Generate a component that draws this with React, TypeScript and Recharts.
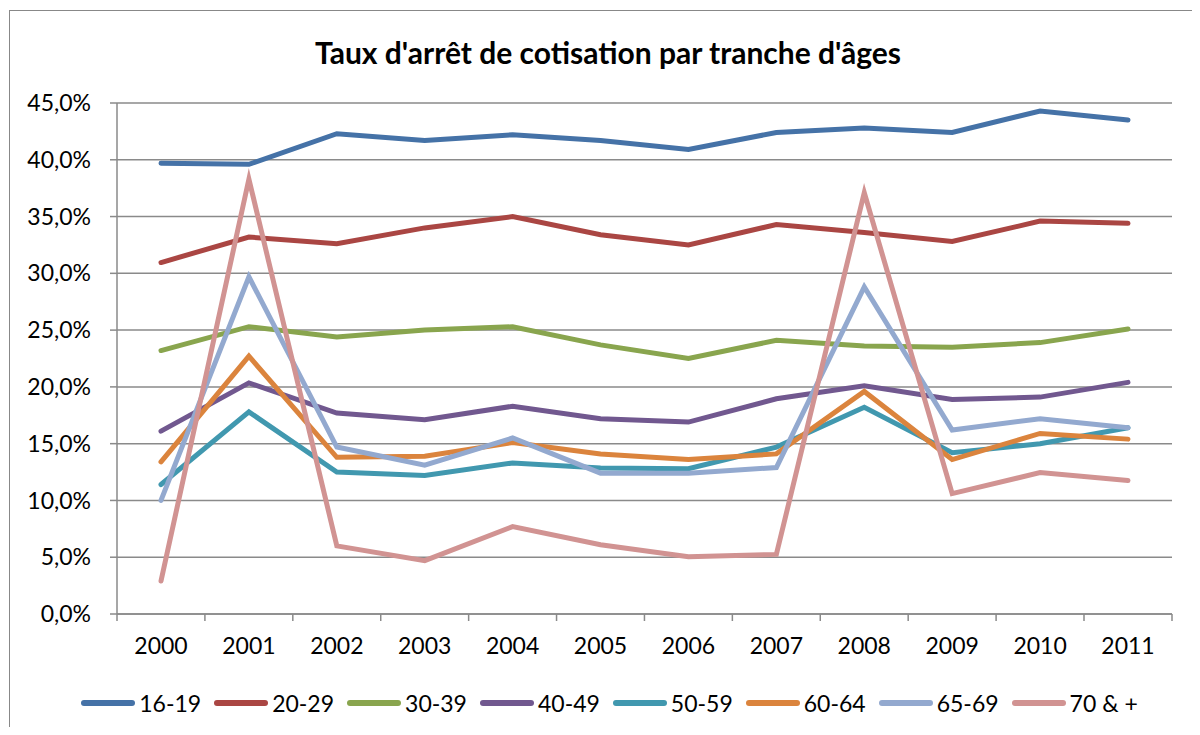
import React from 'react';
import { LineChart, Line, XAxis, YAxis, CartesianGrid } from 'recharts';

// Taux d'arrêt de cotisation (%), par année et tranche d'âges
const years = ['2000', '2001', '2002', '2003', '2004', '2005', '2006', '2007', '2008', '2009', '2010', '2011'];

const tranche16_19 = [39.7, 39.6, 42.3, 41.7, 42.2, 41.7, 40.9, 42.4, 42.8, 42.4, 44.3, 43.5];
const tranche20_29 = [30.95, 33.2, 32.6, 34.0, 35.0, 33.4, 32.5, 34.3, 33.6, 32.8, 34.6, 34.4];
const tranche30_39 = [23.2, 25.3, 24.4, 25.0, 25.3, 23.7, 22.5, 24.1, 23.6, 23.5, 23.9, 25.1];
const tranche40_49 = [16.1, 20.35, 17.7, 17.1, 18.3, 17.2, 16.9, 18.95, 20.1, 18.9, 19.1, 20.4];
const tranche50_59 = [11.4, 17.8, 12.5, 12.2, 13.3, 12.85, 12.8, 14.7, 18.2, 14.2, 15.0, 16.4];
const tranche60_64 = [13.4, 22.7, 13.8, 13.9, 15.1, 14.1, 13.6, 14.1, 19.6, 13.6, 15.9, 15.4];
const tranche65_69 = [10.0, 29.7, 14.7, 13.1, 15.5, 12.4, 12.4, 12.9, 28.8, 16.2, 17.2, 16.4];
const tranche70plus = [2.9, 38.3, 6.0, 4.7, 7.7, 6.1, 5.05, 5.25, 37.1, 10.6, 12.45, 11.75];

const yTicks = [0, 5, 10, 15, 20, 25, 30, 35, 40, 45];

const series = [
  { key: '16-19', values: tranche16_19, color: '#4572A7' },
  { key: '20-29', values: tranche20_29, color: '#AA4643' },
  { key: '30-39', values: tranche30_39, color: '#89A54E' },
  { key: '40-49', values: tranche40_49, color: '#71588F' },
  { key: '50-59', values: tranche50_59, color: '#4198AF' },
  { key: '60-64', values: tranche60_64, color: '#DB843D' },
  { key: '65-69', values: tranche65_69, color: '#93A9CF' },
  { key: '70 & +', values: tranche70plus, color: '#D19392' },
];

const data = years.map((year, i) => {
  const row: Record<string, string | number> = { year };
  series.forEach((s) => {
    row[s.key] = s.values[i];
  });
  return row;
});

const GRID = '#8a8a8a';
const FONT = 'Lato, "Open Sans", sans-serif';
const LABEL_SIZE = 23;
const HALF_BAND = 44;

const formatPct = (v: number) => v.toFixed(1).replace('.', ',') + '%';

// year label centred on the point, tick marks on the category boundaries
const YearTick = (props: any) => {
  const { x, y, payload, index } = props;
  const last = index === years.length - 1;
  return (
    <g>
      <line x1={x - HALF_BAND} x2={x - HALF_BAND} y1={y} y2={y + 7} stroke={GRID} strokeWidth={1.5} />
      {last && <line x1={x + HALF_BAND} x2={x + HALF_BAND} y1={y} y2={y + 7} stroke={GRID} strokeWidth={1.5} />}
      <text x={x} y={y + 40} textAnchor="middle" fontSize={LABEL_SIZE} fill="#000" fontFamily={FONT}>
        {payload.value}
      </text>
    </g>
  );
};

const LegendRow = () => (
  <div
    style={{
      position: 'absolute',
      top: 688,
      left: 0,
      width: 1200,
      paddingLeft: 18,
      boxSizing: 'border-box',
      display: 'flex',
      justifyContent: 'center',
      alignItems: 'center',
      gap: 12,
      fontFamily: FONT,
      fontSize: LABEL_SIZE,
      lineHeight: '30px',
      color: '#000',
    }}
  >
    {series.map((s) => (
      <div key={s.key} style={{ display: 'flex', alignItems: 'center' }}>
        <svg width={56} height={10} style={{ marginRight: 3 }}>
          <line x1={4} x2={52} y1={5} y2={5} stroke={s.color} strokeWidth={6} strokeLinecap="round" />
        </svg>
        <span>{s.key}</span>
      </div>
    ))}
  </div>
);

export default function App() {
  return (
    <div style={{ position: 'relative', width: 1200, height: 735, margin: -8, overflow: 'hidden', background: '#fff' }}>
      <div
        style={{
          position: 'absolute',
          left: 9,
          top: 10,
          width: 1220,
          height: 800,
          border: '1.5px solid #888',
        }}
      />
      <div
        style={{
          position: 'absolute',
          top: 35,
          left: 8,
          width: 1200,
          textAlign: 'center',
          fontFamily: FONT,
          fontWeight: 'bold',
          fontSize: 30,
          lineHeight: '34px',
          color: '#000',
        }}
      >
        Taux d'arrêt de cotisation par tranche d'âges
      </div>
      <div style={{ position: 'absolute', left: 0, top: 0 }}>
        <LineChart width={1200} height={735} data={data} margin={{ top: 103, right: 28, bottom: 61, left: 0 }}>
          <CartesianGrid vertical={false} stroke={GRID} strokeWidth={1.5} />
          <XAxis
            dataKey="year"
            height={60}
            padding={{ left: HALF_BAND, right: HALF_BAND }}
            axisLine={{ stroke: GRID, strokeWidth: 1.5 }}
            tickLine={false}
            tickSize={0}
            tickMargin={0}
            interval={0}
            tick={<YearTick />}
          />
          <YAxis
            width={117}
            domain={[0, 45]}
            ticks={yTicks}
            interval={0}
            tickFormatter={formatPct}
            axisLine={{ stroke: GRID, strokeWidth: 1.5 }}
            tickLine={{ stroke: GRID, strokeWidth: 1.5 }}
            tickSize={7}
            tickMargin={19}
            tick={{ fill: '#000', fontSize: LABEL_SIZE, fontFamily: FONT }}
          />
          {series.map((s) => (
            <Line
              key={s.key}
              type="linear"
              dataKey={s.key}
              stroke={s.color}
              strokeWidth={5}
              strokeLinecap="round"
              strokeMiterlimit={10}
              dot={false}
              activeDot={false}
              isAnimationActive={false}
            />
          ))}
        </LineChart>
      </div>
      <LegendRow />
    </div>
  );
}
